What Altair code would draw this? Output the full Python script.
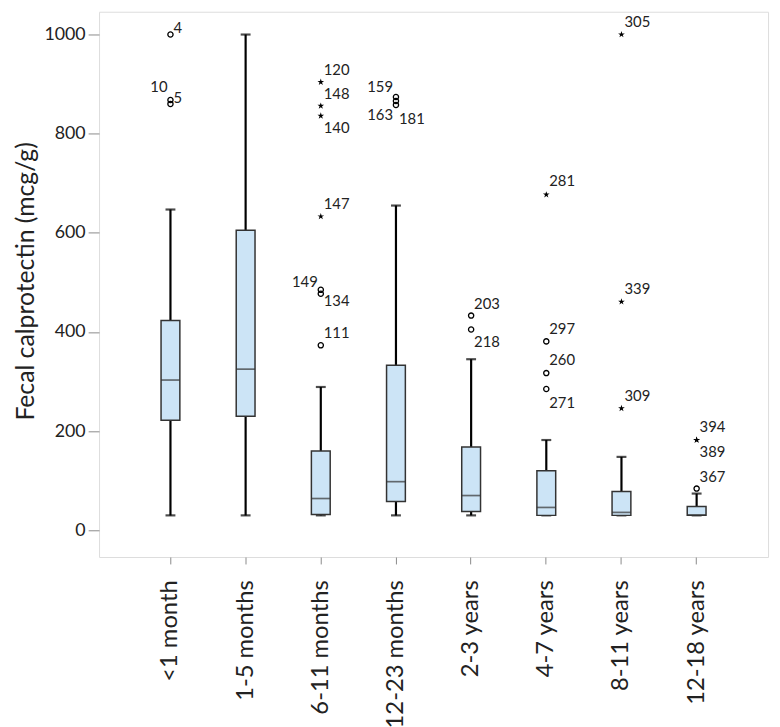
import altair as alt
import pandas as pd

# ---- box statistics (mcg/g) ----
groups = ["<1 month", "1-5 months", "6-11 months", "12-23 months",
          "2-3 years", "4-7 years", "8-11 years", "12-18 years"]
whisker_low = [30, 30, 30, 30, 30, 30, 30, 30]
q1 = [222, 230, 32, 58, 38, 30, 30, 30]
median = [303, 325, 64, 98, 70, 46, 36, 31]
q3 = [423, 605, 160, 333, 168, 120, 78, 48]
whisker_high = [647, 1000, 289, 655, 345, 182, 148, 74]

# ---- outliers ----
out_group = ["<1 month", "<1 month", "<1 month",
             "6-11 months", "6-11 months", "6-11 months", "6-11 months",
             "6-11 months", "6-11 months", "6-11 months",
             "12-23 months", "12-23 months", "12-23 months",
             "2-3 years", "2-3 years",
             "4-7 years", "4-7 years", "4-7 years", "4-7 years",
             "8-11 years", "8-11 years", "8-11 years",
             "12-18 years", "12-18 years", "12-18 years"]
out_value = [1000, 868, 860,
             904, 856, 836, 633, 485, 477, 373,
             874, 866, 858,
             433, 405,
             381, 317, 285, 677,
             1000, 461, 246,
             182, 182, 84]
out_kind = ["circle", "circle", "circle",
            "star", "star", "star", "star", "circle", "circle", "circle",
            "circle", "circle", "circle",
            "circle", "circle",
            "circle", "circle", "circle", "star",
            "star", "star", "star",
            "star", "star", "circle"]
out_label = ["4", "10", "5",
             "120", "148", "140", "147", "149", "134", "111",
             "159", "163", "181",
             "203", "218",
             "297", "260", "271", "281",
             "305", "339", "309",
             "394", "389", "367"]
label_value = [1014, 894, 872,
               928, 880, 812, 659, 501, 463, 397,
               894, 838, 830,
               457, 379,
               405, 343, 257, 705,
               1026, 487, 271,
               208, 158, 108]
label_side = ["right", "left", "right",
              "right", "right", "right", "right", "left", "right", "right",
              "left", "left", "right",
              "right", "right",
              "right", "right", "right", "right",
              "right", "right", "right",
              "right", "right", "right"]

boxes = pd.DataFrame({"group": groups, "low": whisker_low, "q1": q1,
                      "median": median, "q3": q3, "high": whisker_high})
outs = pd.DataFrame({"group": out_group, "value": out_value, "kind": out_kind,
                     "label": out_label, "label_value": label_value,
                     "side": label_side})

FONT = "Lato"
STAR = ("M0,-1L0.2245,-0.309L0.951,-0.309L0.363,0.118L0.588,0.809L0,0.382"
        "L-0.588,0.809L-0.363,0.118L-0.951,-0.309L-0.2245,-0.309Z")

yscale = alt.Scale(domain=[-54, 1046], nice=False, zero=False)
xscale = alt.Scale(type="band", domain=groups, paddingInner=0, paddingOuter=0.45)

x_enc = alt.X("group:N", scale=xscale, sort=groups,
              axis=alt.Axis(title=None, labelAngle=-90, labelPadding=16,
                            labelFontSize=24, labelFont=FONT, labelColor="#222",
                            tickColor="#8a8a8a", tickSize=7, domain=False,
                            labelLimit=300))
y_axis = alt.Axis(title="Fecal calprotectin (mcg/g)", values=[0, 200, 400, 600, 800, 1000],
                  format="d",
                  grid=False, domain=False, tickColor="#8a8a8a", tickSize=11,
                  labelPadding=3, labelFontSize=18, labelFont=FONT, labelColor="#222",
                  titleFont=FONT, titleFontSize=25, titleFontWeight="normal",
                  titleColor="#222", titleX=-74, titleY=272, titleAngle=270,
                  titleAlign="center", titleBaseline="middle")

base = alt.Chart(boxes)

whisker = base.mark_rule(color="black", strokeWidth=2.2).encode(
    x=x_enc, y=alt.Y("low:Q", scale=yscale, axis=y_axis), y2="high:Q")
cap_low = base.mark_tick(color="black", size=10, thickness=2.2).encode(
    x=x_enc, y=alt.Y("low:Q", scale=yscale))
cap_high = base.mark_tick(color="black", size=10, thickness=2.2).encode(
    x=x_enc, y=alt.Y("high:Q", scale=yscale))
box = base.mark_bar(size=19, fill="#cce4f6", stroke="#333333", strokeWidth=1.5).encode(
    x=x_enc, y=alt.Y("q1:Q", scale=yscale), y2="q3:Q")
med = base.mark_tick(color="#333333", size=19, thickness=1.7).encode(
    x=x_enc, y=alt.Y("median:Q", scale=yscale))

ob = alt.Chart(outs)
circles = ob.transform_filter(alt.datum.kind == "circle").mark_point(
    shape="circle", filled=False, color="black", size=28, strokeWidth=1.3, opacity=1).encode(
    x=x_enc, y=alt.Y("value:Q", scale=yscale))
stars = ob.transform_filter(alt.datum.kind == "star").mark_point(
    shape=STAR, filled=True, color="black", size=50, opacity=1).encode(
    x=x_enc, y=alt.Y("value:Q", scale=yscale))
lab_r = ob.transform_filter(alt.datum.side == "right").mark_text(
    align="left", baseline="middle", dx=3, font=FONT, fontSize=15, color="#222").encode(
    x=x_enc, y=alt.Y("label_value:Q", scale=yscale), text="label:N")
lab_l = ob.transform_filter(alt.datum.side == "left").mark_text(
    align="right", baseline="middle", dx=-3, font=FONT, fontSize=15, color="#222").encode(
    x=x_enc, y=alt.Y("label_value:Q", scale=yscale), text="label:N")

chart = alt.layer(whisker, cap_low, cap_high, box, med, circles, stars, lab_r, lab_l).properties(
    width=676, height=551,
    autosize=alt.AutoSizeParams(type="none"),
    padding={"left": 92, "top": 0, "right": 4, "bottom": 168},
).configure_view(stroke="#999999", strokeWidth=1.2).configure(background="white")

chart.save("out.html", embed_options={"renderer": "svg", "actions": False})
